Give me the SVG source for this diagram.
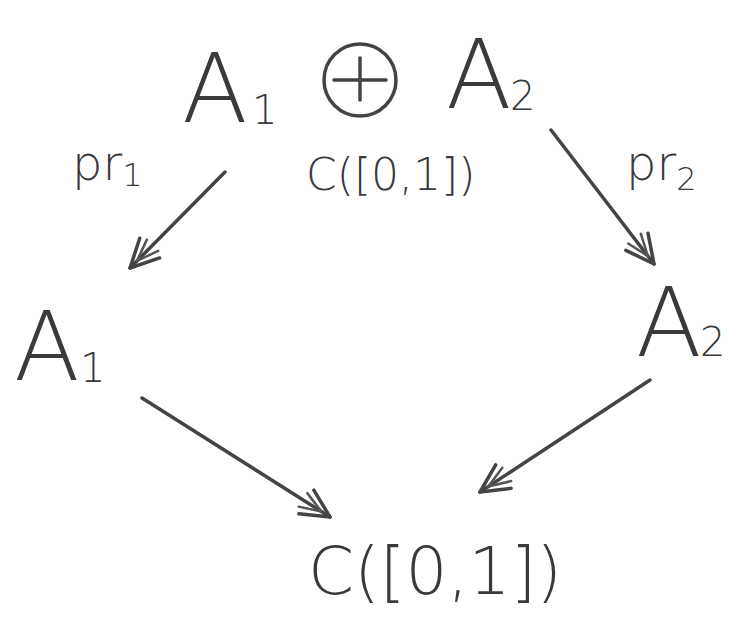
<svg xmlns="http://www.w3.org/2000/svg" width="736" height="618" viewBox="0 0 736 618">
<style>
.t{font-family:"DejaVu Sans","Liberation Sans",sans-serif;fill:#3a3a3a;font-weight:300}
.big{font-size:96px}
.sub{font-size:40px}
.lab{font-size:44px}
.c{stroke:#444;stroke-width:3.5;fill:none;stroke-linecap:round;stroke-linejoin:round}
</style>
<defs>
<marker id="ah" viewBox="0 0 40 40" refX="36" refY="20" markerWidth="40" markerHeight="40" markerUnits="userSpaceOnUse" orient="auto" overflow="visible">
<path d="M8,6 L36,20 L8,34" fill="none" stroke="#444" stroke-width="3.5" stroke-linecap="round" stroke-linejoin="round"/>
<path d="M4,12 L26,20 L4,28" fill="none" stroke="#555" stroke-width="2.5" stroke-linecap="round" stroke-linejoin="round"/>
</marker>
</defs>
<rect width="736" height="618" fill="#fff"/>
<g id="top">
<text class="t big" x="182" y="122">A</text>
<text class="t sub" x="252" y="124">1</text>
<g class="c" stroke-width="3">
<circle cx="360" cy="80" r="36"/>
<line x1="334" y1="80" x2="386" y2="80"/>
<line x1="360" y1="58" x2="360" y2="100"/>
</g>
<text class="t big" x="446" y="108">A</text>
<text class="t sub" x="510" y="110">2</text>
<text class="t lab" x="306" y="190">C([0,1])</text>
</g>
<g id="a1"><text class="t big" x="14" y="380">A</text><text class="t sub" x="80" y="382">1</text></g>
<g id="a2"><text class="t big" x="636" y="356">A</text><text class="t sub" x="700" y="356">2</text></g>
<g id="c"><text class="t" font-size="66" x="308" y="594">C([0,1])</text></g>
<g id="labels">
<text class="t" font-size="48" x="72" y="180">pr<tspan font-size="32" dy="6">1</tspan></text>
<text class="t" font-size="48" x="626" y="180">pr<tspan font-size="32" dy="10">2</tspan></text>
</g>
<g id="connectors">
<line class="c" x1="225" y1="172" x2="130" y2="268" marker-end="url(#ah)"/>
<line class="c" x1="551" y1="130" x2="654" y2="264" marker-end="url(#ah)"/>
<line class="c" x1="142" y1="398" x2="330" y2="517" marker-end="url(#ah)"/>
<line class="c" x1="650" y1="380" x2="480" y2="492" marker-end="url(#ah)"/>
</g>
</svg>
